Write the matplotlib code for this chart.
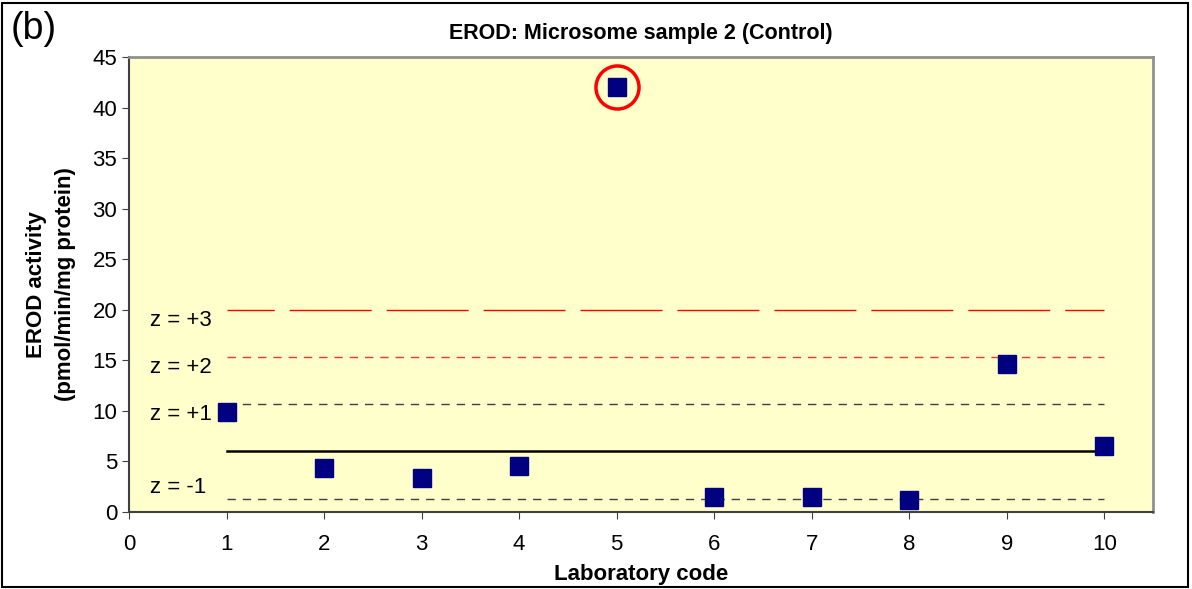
import matplotlib.pyplot as plt
from matplotlib.patches import Rectangle

plt.rcParams['font.family'] = ['Liberation Sans', 'DejaVu Sans']

# laboratory results (pmol/min/mg protein)
labs = [1, 2, 3, 4, 5, 6, 7, 8, 9, 10]
erod = [9.9, 4.4, 3.4, 4.6, 42.0, 1.5, 1.5, 1.2, 14.6, 6.5]
outlier_lab = 5

# consensus mean and z-score limits
mean_val = 6.0
z_labels = ["z = -1", "z = +1", "z = +2", "z = +3"]
z_values = [1.3, 10.7, 15.3, 20.0]

fig = plt.figure(figsize=(11.92, 5.89), dpi=100)
ax = fig.add_axes([0.1082, 0.1307, 0.8591, 0.7725])
ax.set_facecolor('#FFFFCC')

line_x = [labs[0], labs[-1]]
ax.plot(line_x, [mean_val, mean_val], color='black', lw=1.8, zorder=2)
ax.plot(line_x, [z_values[0]] * 2, color='#404040', lw=1.0, dashes=(6, 5), zorder=2)
ax.plot(line_x, [z_values[1]] * 2, color='#404040', lw=1.0, dashes=(6, 5), zorder=2)
ax.plot(line_x, [z_values[2]] * 2, color='#FF3030', lw=1.0, dashes=(6, 5), zorder=2)
ax.plot(line_x, [z_values[3]] * 2, color='red', lw=1.0, ls=(25, (59, 10.8)), zorder=2)

for lab, val in zip(z_labels, z_values):
    if lab == "z = -1":
        ax.text(0.22, val + 0.1, lab, fontsize=16, va='bottom', ha='left')
    else:
        ax.text(0.22, val, lab, fontsize=16, va='top', ha='left')

ax.plot(labs, erod, linestyle='none', marker='s', markersize=13,
        color='#000080', zorder=3)

# red circle marking the outlier
ax.plot([outlier_lab], [erod[labs.index(outlier_lab)]], linestyle='none', marker='o',
        markersize=31, markerfacecolor='none', markeredgecolor='red',
        markeredgewidth=2.5, zorder=4)

ax.set_xlim(0, 10.5)
ax.set_ylim(0, 45)
ax.set_xticks(range(0, 11))
ax.set_yticks(range(0, 46, 5))
ax.tick_params(labelsize=16, direction='out', length=5, color='#404040')
ax.tick_params(axis='x', pad=11)
for side in ['left', 'bottom']:
    ax.spines[side].set_color('#404040')
    ax.spines[side].set_linewidth(1.5)
for side in ['top', 'right']:
    ax.spines[side].set_color('#909090')
    ax.spines[side].set_linewidth(2)

ax.set_title("EROD: Microsome sample 2 (Control)", fontsize=15.5, fontweight='bold', pad=13)
ax.set_xlabel("Laboratory code", fontsize=16, fontweight='bold', labelpad=6)
ax.set_ylabel("EROD activity\n(pmol/min/mg protein)", fontsize=16, fontweight='bold',
              labelpad=12, linespacing=1.5)

fig.text(0.009, 0.950, "(b)", fontsize=27, va='center')
fig.patches.append(Rectangle((0.002, 0.003), 0.995, 0.992, transform=fig.transFigure,
                             fill=False, edgecolor='black', lw=1.5))

fig.savefig("out.png", dpi=100)
